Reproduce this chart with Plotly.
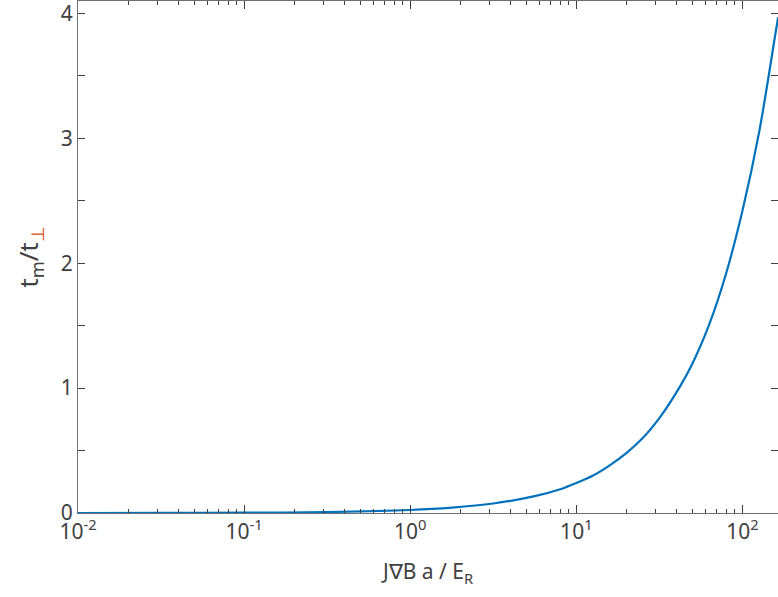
import plotly.graph_objects as go

# Data
x_vals = [0.01, 0.0316, 0.1, 0.316, 1.0, 1.78, 3.16, 5.62, 8.0, 10.0, 12.6, 15.8, 20.0,
          25.1, 31.6, 39.8, 50.1, 63.1, 79.4, 100.0, 126.0, 158.0, 164.0]
y_vals = [0.0002, 0.0008, 0.0024, 0.0076, 0.024, 0.043, 0.076, 0.135, 0.19, 0.24, 0.30,
          0.38, 0.48, 0.60, 0.76, 0.96, 1.20, 1.51, 1.91, 2.42, 3.05, 3.84, 3.97]

x_major = [0.01, 0.1, 1, 10, 100]
x_major_text = ["10<sup>-2</sup>", "10<sup>-1</sup>", "10<sup>0</sup>", "10<sup>1</sup>", "10<sup>2</sup>"]
x_minor = [m * d for d in [0.01, 0.1, 1, 10, 100] for m in range(2, 10)]
y_ticks = [0, 0.5, 1, 1.5, 2, 2.5, 3, 3.5, 4]
y_tick_text = ["0", "", "1", "", "2", "", "3", "", "4"]

FONT = "Noto Sans"
TXT = "#404040"
AX = "#707070"

fig = go.Figure()
fig.add_trace(go.Scatter(x=x_vals, y=y_vals, mode="lines", line_shape="spline",
                         line=dict(color="#0072BD", width=2.2, smoothing=1.0), showlegend=False))

fig.update_layout(
    width=778, height=597,
    margin=dict(l=78, r=0, t=1, b=84, autoexpand=False),
    plot_bgcolor="white", paper_bgcolor="white",
    font=dict(family=FONT, color=TXT, size=20),
)
fig.update_xaxes(
    type="log", range=[-2, 2.214], automargin=False, ticklabeloverflow="allow",
    tickvals=x_major, ticktext=x_major_text,
    ticks="inside", ticklen=8, tickwidth=1, tickcolor="#404040",
    minor=dict(tickvals=x_minor, ticks="inside", ticklen=4, tickcolor="#404040", tickwidth=1, showgrid=False),
    showline=True, linecolor=AX, linewidth=1, mirror="ticks",
    showgrid=False, zeroline=False,
    tickfont=dict(size=21, color=TXT, family=FONT),
    title=dict(text="J∇B a / E<sub>R</sub>", font=dict(size=21, color=TXT, family=FONT), standoff=20),
)
fig.update_yaxes(
    range=[0, 4.1], automargin=False, ticklabeloverflow="allow",
    tickvals=y_ticks, ticktext=y_tick_text,
    ticks="inside", ticklen=7, tickwidth=1, tickcolor="#404040",
    showline=True, linecolor=AX, linewidth=1, mirror="ticks",
    showgrid=False, zeroline=False,
    tickfont=dict(size=21, color=TXT, family=FONT),
    title=dict(text="t<sub>m</sub>/t<sub><span style='color:#D95319'>⊥</span></sub>",
               font=dict(size=26, color=TXT, family=FONT), standoff=14),
)

fig.write_html("out.html", config={"displayModeBar": False},
               post_script="document.body.style.margin='0';document.body.style.overflow='hidden';")
